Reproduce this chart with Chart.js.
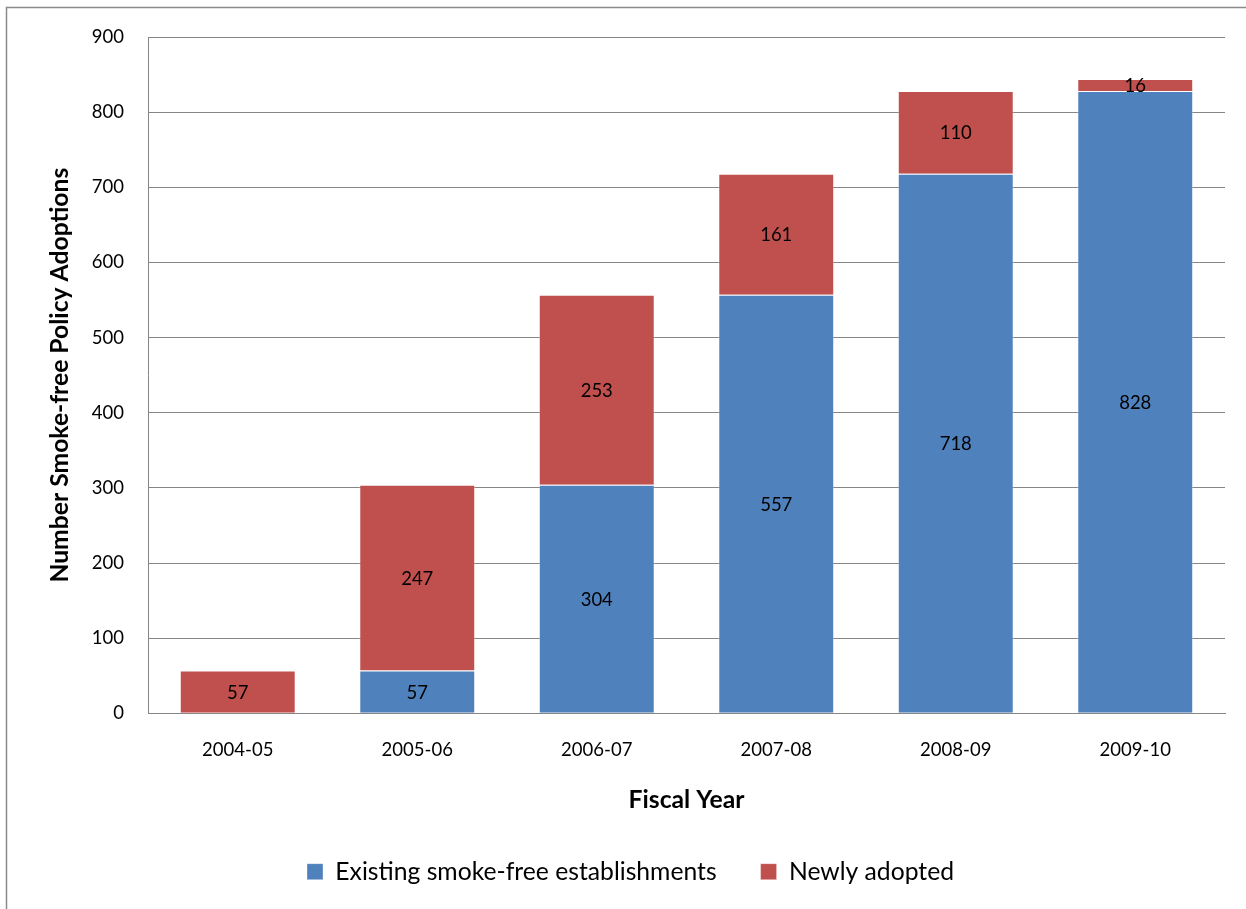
<!DOCTYPE html>
<html>
<head>
<meta charset="utf-8">
<title>Smoke-free Policy Adoptions by Fiscal Year</title>
<script src="https://cdn.jsdelivr.net/npm/chart.js@4.4.1/dist/chart.umd.min.js"></script>
<style>
  html, body { margin: 0; padding: 0; background: #ffffff; }
  #wrap { width: 1246px; height: 909px; position: relative; }
</style>
</head>
<body>
<div id="wrap"><canvas id="chart" width="1246" height="909"></canvas></div>
<script>
// Fiscal years and stacked counts
const fiscalYears = ['2004-05', '2005-06', '2006-07', '2007-08', '2008-09', '2009-10'];
const existingEstablishments = [0, 57, 304, 557, 718, 828];
const newlyAdopted = [57, 247, 253, 161, 110, 16];
const yTicks = [0, 100, 200, 300, 400, 500, 600, 700, 800, 900];

const FONT = 'Lato, "Liberation Sans", sans-serif';
const GRID = '#868686';
const TICK_SIZE = 18.5;
const BIG_SIZE = 24.7;

// Frame lines around the chart object
const framePlugin = {
  id: 'frame',
  beforeDraw(chart) {
    const ctx = chart.ctx;
    ctx.save();
    ctx.fillStyle = '#ffffff';
    ctx.fillRect(0, 0, chart.width, chart.height);
    ctx.strokeStyle = '#8a8a8a';
    ctx.lineWidth = 1.5;
    ctx.beginPath();
    ctx.moveTo(6.5, chart.height);
    ctx.lineTo(6.5, 7.5);
    ctx.lineTo(chart.width, 7.5);
    ctx.stroke();
    ctx.restore();
  }
};

// Value labels centred inside each stacked segment
const segmentLabels = {
  id: 'segmentLabels',
  afterDatasetsDraw(chart) {
    const ctx = chart.ctx;
    ctx.save();
    ctx.font = TICK_SIZE + 'px ' + FONT;
    ctx.fillStyle = '#000000';
    ctx.textAlign = 'center';
    ctx.textBaseline = 'middle';
    chart.data.datasets.forEach((ds, di) => {
      const meta = chart.getDatasetMeta(di);
      meta.data.forEach((bar, i) => {
        const v = ds.data[i];
        if (!v) return;
        const p = bar.getProps(['x', 'y', 'base'], true);
        ctx.fillText(String(v), p.x, (p.y + p.base) / 2 + 1);
      });
    });
    ctx.restore();
  }
};

new Chart(document.getElementById('chart'), {
  type: 'bar',
  data: {
    labels: fiscalYears,
    datasets: [
      {
        label: 'Existing smoke-free establishments',
        data: existingEstablishments,
        backgroundColor: '#4F81BD',
        borderColor: 'rgba(255,255,255,0.35)',
        borderWidth: 1,
        barPercentage: 0.646,
        categoryPercentage: 1
      },
      {
        label: 'Newly adopted',
        data: newlyAdopted,
        backgroundColor: '#C0504D',
        borderColor: 'rgba(255,255,255,0.35)',
        borderWidth: 1,
        barPercentage: 0.646,
        categoryPercentage: 1
      }
    ]
  },
  options: {
    responsive: false,
    animation: false,
    devicePixelRatio: 1,
    layout: { padding: { left: 36, right: 21, top: 37, bottom: 15 } },
    plugins: {
      tooltip: { enabled: false },
      legend: {
        position: 'bottom',
        labels: {
          font: { family: FONT, size: BIG_SIZE },
          color: '#000000',
          boxWidth: 16,
          boxHeight: 16,
          padding: 44
        }
      }
    },
    scales: {
      x: {
        stacked: true,
        grid: { display: false, drawTicks: false },
        border: { display: true, color: GRID, width: 1 },
        ticks: { font: { family: FONT, size: TICK_SIZE }, color: '#000000', padding: 26 },
        title: {
          display: true,
          text: 'Fiscal Year',
          font: { family: FONT, size: BIG_SIZE, weight: 'bold' },
          color: '#000000',
          padding: { top: 10, bottom: 0.5 }
        },
        afterFit(scale) { scale.height = 102; }
      },
      y: {
        stacked: true,
        min: 0,
        max: 900,
        afterBuildTicks(scale) { scale.ticks = yTicks.map(v => ({ value: v })); },
        grid: { color: GRID, lineWidth: 1, drawTicks: false },
        border: { display: true, color: GRID, width: 1 },
        ticks: { font: { family: FONT, size: TICK_SIZE }, color: '#000000', padding: 24 },
        title: {
          display: true,
          text: 'Number Smoke-free Policy Adoptions',
          font: { family: FONT, size: BIG_SIZE, weight: 'bold' },
          color: '#000000',
          padding: { top: 9, bottom: 0 }
        },
        afterFit(scale) { scale.width = 112; }
      }
    }
  },
  plugins: [framePlugin, segmentLabels]
});
</script>
</body>
</html>
